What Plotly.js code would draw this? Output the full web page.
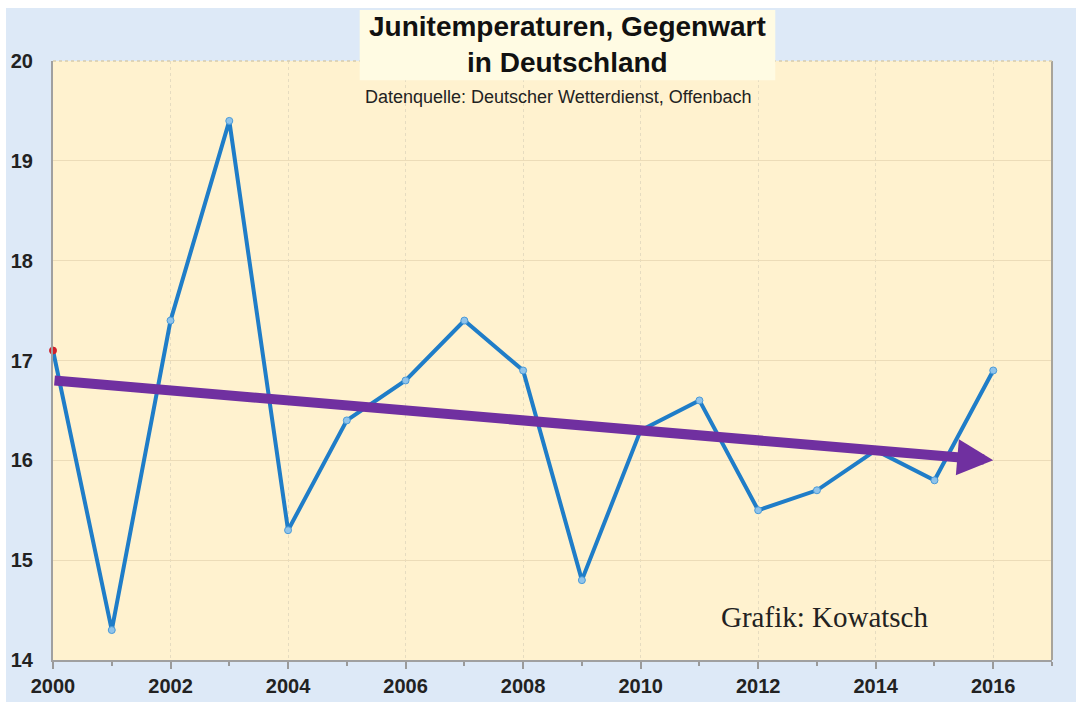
<!DOCTYPE html>
<html><head><meta charset="utf-8">
<script src="https://cdn.plot.ly/plotly-3.0.1.min.js"></script>
<style>html,body{margin:0;padding:0;background:#ffffff;}#chart{position:absolute;left:6px;top:8px;width:1070px;height:694px;}</style>
</head><body><div id="chart"></div>
<script>
const years = [2000,2001,2002,2003,2004,2005,2006,2007,2008,2009,2010,2011,2012,2013,2014,2015,2016];
const temps = [17.1,14.3,17.4,19.4,15.3,16.4,16.8,17.4,16.9,14.8,16.3,16.6,15.5,15.7,16.1,15.8,16.9];
const trendX = [2000, 2016];
const trendY = [16.8, 16.0];
const xTicks = [2000,2002,2004,2006,2008,2010,2012,2014,2016];
const yTicks = [14,15,16,17,18,19,20];
const titleText = '<b>Junitemperaturen, Gegenwart<br>in Deutschland</b>';
const subtitleText = 'Datenquelle: Deutscher Wetterdienst, Offenbach';
const creditText = 'Grafik: Kowatsch';

const markerColors = temps.map((v,i)=> i===0 ? '#d0202a' : '#8fc3ea');
const markerLines = temps.map((v,i)=> i===0 ? '#d0202a' : '#4a9ad8');

const traces = [
  {x: years, y: temps, type:'scatter', mode:'lines', line:{color:'#1f7dc8', width:4}, hoverinfo:'skip', cliponaxis:false},
  {x: years, y: temps, type:'scatter', mode:'markers', marker:{size:7, color:markerColors, line:{color:markerLines, width:1}}, cliponaxis:false}
];

const tickFont = {size:20, family:'Arial, Liberation Sans, sans-serif', weight:'bold', color:'#222'};
const layout = {
  width:1070, height:694,
  paper_bgcolor:'#dde9f7', plot_bgcolor:'#fff2cf',
  margin:{l:47, r:24, t:53, b:42},
  showlegend:false,
  font:{family:'Arial, Liberation Sans, sans-serif', color:'#1a1a1a'},
  xaxis:{range:[2000,2017], tickvals:xTicks, ticktext:xTicks.map(String), tickfont:tickFont,
    showline:true, linecolor:'#a0a0a0', linewidth:2, ticks:'outside', ticklen:7, tickcolor:'#9a9a9a', tickwidth:2,
    minor:{dtick:1, tick0:2001, ticks:'outside', ticklen:4, tickcolor:'#9a9a9a', showgrid:false},
    showgrid:true, gridcolor:'#e6dcc0', griddash:'dot', gridwidth:1, zeroline:false, fixedrange:true},
  yaxis:{range:[14,20], tickvals:yTicks, ticktext:yTicks.map(String), tickfont:tickFont,
    showline:true, linecolor:'#a0a0a0', linewidth:2, ticks:'', ticklabelstandoff:14,
    showgrid:true, gridcolor:'#ecdcb8', gridwidth:1, zeroline:false, fixedrange:true},
  shapes:[
    {type:'line', xref:'paper', yref:'paper', x0:1, x1:1, y0:0, y1:1, line:{color:'#a8a49a', width:2}},
    {type:'line', xref:'paper', yref:'paper', x0:0, x1:1, y0:1, y1:1, line:{color:'#d6ccae', width:1.5, dash:'dot'}},
    {type:'rect', xref:'paper', yref:'paper', x0:0.307, x1:0.723, y0:0.968, y1:1.085, layer:'above',
     fillcolor:'#fffbe3', line:{width:0}}
  ],
  annotations:[
    {x:trendX[1], y:trendY[1], ax:trendX[0], ay:trendY[0], xref:'x', yref:'y', axref:'x', ayref:'y',
     showarrow:true, arrowhead:2, arrowsize:0.72, arrowwidth:10, arrowcolor:'#7030a0', text:'', standoff:0},
    {xref:'paper', yref:'paper', x:0.515, y:1.0, yshift:17, xanchor:'center', yanchor:'middle',
     text:titleText, showarrow:false, font:{size:28, family:'Arial, Liberation Sans, sans-serif', color:'#111'}},
    {xref:'paper', yref:'paper', x:0.5065, y:1.0, yshift:-36, xanchor:'center', yanchor:'middle',
     text:subtitleText, showarrow:false, font:{size:18, family:'Arial, Liberation Sans, sans-serif', color:'#222'}},
    {xref:'paper', yref:'paper', x:0.772, y:0.072, xanchor:'center', yanchor:'middle',
     text:creditText, showarrow:false, font:{size:29, family:'Liberation Serif, Times New Roman, serif', color:'#222'}}
  ]
};
Plotly.newPlot('chart', traces, layout, {staticPlot:true, displayModeBar:false});
</script></body></html>
